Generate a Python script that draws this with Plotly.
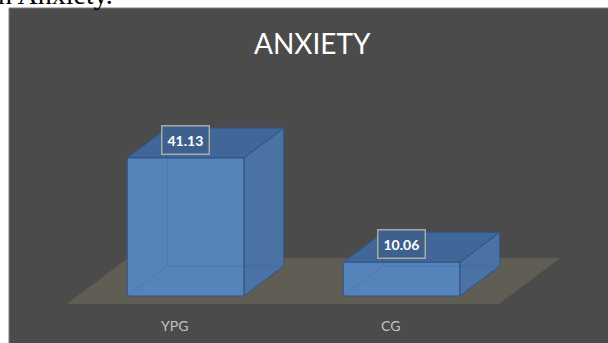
import plotly.graph_objects as go

# ---- data ----
categories = ["YPG", "CG"]
values = [41.13, 10.06]
value_labels = ["41.13", "10.06"]
chart_title = "ANXIETY"
caption_fragment = "n Anxiety."

# ---- style / projection constants ----
BAR_W = 0.54          # bar width in category units
DX = 0.185            # depth shift in x (category units per unit depth)
DY = 8.94             # depth shift in y (value units per unit depth)
FLOOR_Z = (-0.27, 1.27)

PANEL = "#4b4b4b"
FLOOR = "#605e54"
FRONT = "#5683ba"
TOP = "#416798"
SIDE = "#4a72a5"
EDGE = "#2f5486"


def proj(x, y, z):
    return x + z * DX, y + z * DY


def poly(pts, fill, line_color=EDGE, width=1):
    xs, ys = zip(*[proj(*p) for p in pts])
    xs = list(xs) + [xs[0]]
    ys = list(ys) + [ys[0]]
    return go.Scatter(x=xs, y=ys, mode="lines", fill="toself", fillcolor=fill,
                      line=dict(color=line_color, width=width),
                      hoverinfo="skip", showlegend=False)


fig = go.Figure()

# floor
n = len(categories)
z0, z1 = FLOOR_Z
fig.add_trace(poly([(-0.5, 0, z0), (n - 0.5, 0, z0), (n - 0.5, 0, z1), (-0.5, 0, z1)],
                   FLOOR, line_color=FLOOR, width=0))

for i, h in enumerate(values):
    x0, x1 = i - BAR_W / 2, i + BAR_W / 2
    # faces
    fig.add_trace(poly([(x1, 0, 0), (x1, 0, 1), (x1, h, 1), (x1, h, 0)], SIDE))
    fig.add_trace(poly([(x0, h, 0), (x1, h, 0), (x1, h, 1), (x0, h, 1)], TOP))
    fig.add_trace(poly([(x0, 0, 0), (x1, 0, 0), (x1, h, 0), (x0, h, 0)], FRONT))
    # faint hidden edges (semi-transparent look)
    for a, b in [((x0, 0, 1), (x1, 0, 1)), ((x0, 0, 1), (x0, h, 1)), ((x0, 0, 0), (x0, 0, 1))]:
        pa, pb = proj(*a), proj(*b)
        fig.add_trace(go.Scatter(x=[pa[0], pb[0]], y=[pa[1], pb[1]], mode="lines",
                                 line=dict(color="rgba(47,84,134,0.22)", width=1),
                                 hoverinfo="skip", showlegend=False))
    # value label
    fig.add_annotation(x=i, y=h + 0.6 * DY, xref="x", yref="y", text="<b>%s</b>" % value_labels[i],
                       showarrow=False, font=dict(family="Lato", size=14, color="white"),
                       bgcolor="#3e608c", bordercolor="#a9a9a9", borderwidth=1.5, borderpad=5,
                       xanchor="center", yanchor="middle")
    # category label
    cx, _ = proj(i, 0, z0)
    fig.add_annotation(x=cx, y=-8.8, xref="x", yref="y", text=categories[i], showarrow=False,
                       font=dict(family="Lato", size=14, color="#c4c4c4"),
                       xanchor="center", yanchor="middle")

fig.add_annotation(x=312.5 / 608, y=1 - 43 / 343, xref="paper", yref="paper", text=chart_title,
                   showarrow=False, font=dict(family="Lato", size=28, color="white"),
                   xanchor="center", yanchor="middle")
fig.add_annotation(x=-0.006, y=1.016, xref="paper", yref="paper", xanchor="left", yanchor="middle",
                   text=caption_fragment, showarrow=False,
                   font=dict(family="Liberation Serif", size=28, color="black"))

fig.add_shape(type="rect", xref="paper", yref="paper", x0=9 / 608, x1=1.01, y0=-0.01, y1=1 - 8 / 343,
              fillcolor=PANEL, line=dict(color="#7f7f7f", width=1), layer="below")

fig.update_layout(
    width=608, height=343, margin=dict(l=0, r=0, t=0, b=0),
    paper_bgcolor="white", plot_bgcolor="rgba(0,0,0,0)",
    xaxis=dict(range=[-0.859, 1.956], visible=False, domain=[0, 1], fixedrange=True),
    yaxis=dict(range=[-14.0, 88.2], visible=False, domain=[0, 1], fixedrange=True),
    showlegend=False,
)

fig.write_html("out.html", config={"displayModeBar": False})
